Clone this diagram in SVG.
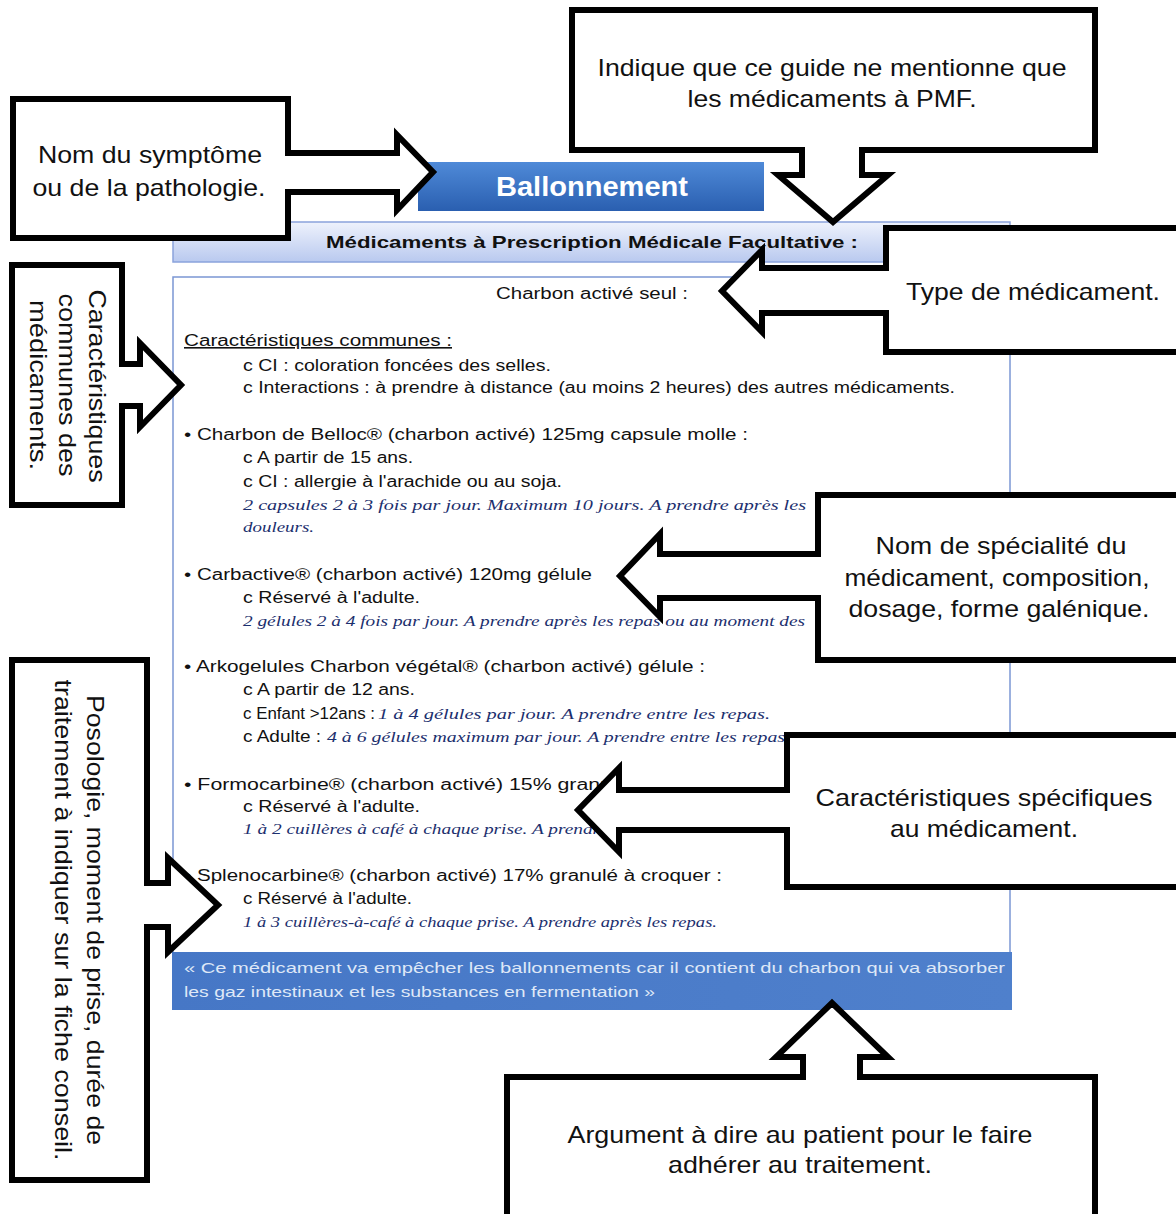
<svg xmlns="http://www.w3.org/2000/svg" width="1176" height="1214" viewBox="0 0 1176 1214">
<defs>
<linearGradient id="gTitle" x1="0" y1="0" x2="0" y2="1">
<stop offset="0" stop-color="#4f8ad8"/>
<stop offset="1" stop-color="#2a5fb0"/>
</linearGradient>
<linearGradient id="gHead" x1="0" y1="0" x2="0" y2="1">
<stop offset="0" stop-color="#eef2fc"/>
<stop offset="1" stop-color="#b9c9ef"/>
</linearGradient>
<linearGradient id="gFoot" x1="0" y1="0" x2="1" y2="0">
<stop offset="0" stop-color="#4677c6"/>
<stop offset="1" stop-color="#4f80cc"/>
</linearGradient>
</defs>
<style>
.co{fill:#fff;stroke:#000;stroke-width:6;stroke-linejoin:miter}
.ct{font-family:"Liberation Sans",Arial,sans-serif;font-size:24px;fill:#111;text-anchor:middle}
.tx{font-family:"Liberation Sans",Arial,sans-serif;font-size:16px;fill:#111}
.it{font-family:"Liberation Serif","Times New Roman",serif;font-size:14px;font-style:italic;fill:#1c2f6e}
.ft{font-family:"Liberation Sans",Arial,sans-serif;font-size:15px;fill:#dfe8f7}
</style>
<rect width="1176" height="1214" fill="#fff"/>

<g id="document">
<rect x="418" y="162" width="346" height="49" fill="url(#gTitle)"/>
<text x="592" y="196" font-family="Liberation Sans,Arial,sans-serif" font-size="28" font-weight="bold" fill="#fff" text-anchor="middle" textLength="192" lengthAdjust="spacingAndGlyphs">Ballonnement</text>
<rect x="173" y="222" width="837" height="40" fill="url(#gHead)" stroke="#8aa3dc" stroke-width="1.5"/>
<text x="326" y="248" font-family="Liberation Sans,Arial,sans-serif" font-size="17" font-weight="bold" fill="#111" textLength="532" lengthAdjust="spacingAndGlyphs">Médicaments à Prescription Médicale Facultative :</text>
<rect x="173" y="277" width="837" height="676" fill="#fff" stroke="#7b97d4" stroke-width="1.5"/>

<text class="tx" x="496" y="299" textLength="192" lengthAdjust="spacingAndGlyphs">Charbon activé seul :</text>
<text class="tx" x="184" y="346" textLength="268" lengthAdjust="spacingAndGlyphs" text-decoration="underline">Caractéristiques communes :</text>
<text class="tx" x="243" y="371" textLength="308" lengthAdjust="spacingAndGlyphs">c CI : coloration foncées des selles.</text>
<text class="tx" x="243" y="393" textLength="712" lengthAdjust="spacingAndGlyphs">c Interactions : à prendre à distance (au moins 2 heures) des autres médicaments.</text>

<text class="tx" x="184" y="440" textLength="564" lengthAdjust="spacingAndGlyphs">• Charbon de Belloc® (charbon activé) 125mg capsule molle :</text>
<text class="tx" x="243" y="463" textLength="170" lengthAdjust="spacingAndGlyphs">c A partir de 15 ans.</text>
<text class="tx" x="243" y="487" textLength="319" lengthAdjust="spacingAndGlyphs">c CI : allergie à l'arachide ou au soja.</text>
<text class="it" x="243" y="510" textLength="563" lengthAdjust="spacingAndGlyphs">2 capsules 2 à 3 fois par jour. Maximum 10 jours. A prendre après les</text>
<text class="it" x="243" y="532" textLength="71" lengthAdjust="spacingAndGlyphs">douleurs.</text>

<text class="tx" x="184" y="580" textLength="408" lengthAdjust="spacingAndGlyphs">• Carbactive® (charbon activé) 120mg gélule</text>
<text class="tx" x="243" y="603" textLength="177" lengthAdjust="spacingAndGlyphs">c Réservé à l'adulte.</text>
<text class="it" x="243" y="626" textLength="562" lengthAdjust="spacingAndGlyphs">2 gélules 2 à 4 fois par jour. A prendre après les repas ou au moment des</text>

<text class="tx" x="184" y="672" textLength="521" lengthAdjust="spacingAndGlyphs">• Arkogelules Charbon végétal® (charbon activé) gélule :</text>
<text class="tx" x="243" y="695" textLength="172" lengthAdjust="spacingAndGlyphs">c A partir de 12 ans.</text>
<text class="tx" x="243" y="719" textLength="132" lengthAdjust="spacingAndGlyphs">c Enfant &gt;12ans :</text>
<text class="it" x="378" y="719" textLength="392" lengthAdjust="spacingAndGlyphs">1 à 4 gélules par jour. A prendre entre les repas.</text>
<text class="tx" x="243" y="742" textLength="78" lengthAdjust="spacingAndGlyphs">c Adulte :</text>
<text class="it" x="327" y="742" textLength="458" lengthAdjust="spacingAndGlyphs">4 à 6 gélules maximum par jour. A prendre entre les repas</text>

<text class="tx" x="184" y="790" textLength="428" lengthAdjust="spacingAndGlyphs">• Formocarbine® (charbon activé) 15% granu</text>
<text class="tx" x="243" y="812" textLength="177" lengthAdjust="spacingAndGlyphs">c Réservé à l'adulte.</text>
<text class="it" x="243" y="834" textLength="365" lengthAdjust="spacingAndGlyphs">1 à 2 cuillères à café à chaque prise. A prendre</text>

<text class="tx" x="184" y="881" textLength="538" lengthAdjust="spacingAndGlyphs">• Splenocarbine® (charbon activé) 17% granulé à croquer :</text>
<text class="tx" x="243" y="904" textLength="169" lengthAdjust="spacingAndGlyphs">c Réservé à l'adulte.</text>
<text class="it" x="243" y="927" textLength="474" lengthAdjust="spacingAndGlyphs">1 à 3 cuillères-à-café à chaque prise. A prendre après les repas.</text>

<rect x="172" y="952" width="840" height="58" fill="url(#gFoot)"/>
<text class="ft" x="184" y="973" textLength="821" lengthAdjust="spacingAndGlyphs">« Ce médicament va empêcher les ballonnements car il contient du charbon qui va absorber</text>
<text class="ft" x="184" y="997" textLength="471" lengthAdjust="spacingAndGlyphs">les gaz intestinaux et les substances en fermentation »</text>
</g>

<g id="connectors"></g>

<g id="callout-symptome">
<polygon class="co" points="13,99 288,99 288,153 397,153 397,135 433,172 397,210 397,192 288,192 288,238 13,238"/>
<text class="ct" x="150" y="163" textLength="224" lengthAdjust="spacingAndGlyphs">Nom du symptôme</text>
<text class="ct" x="149" y="196" textLength="233" lengthAdjust="spacingAndGlyphs">ou de la pathologie.</text>
</g>

<g id="callout-pmf">
<polygon class="co" points="572,10 1095,10 1095,150 862,150 862,175 888,175 833,222 778,175 802,175 802,150 572,150"/>
<text class="ct" x="832" y="76" textLength="469" lengthAdjust="spacingAndGlyphs">Indique que ce guide ne mentionne que</text>
<text class="ct" x="832" y="107" textLength="289" lengthAdjust="spacingAndGlyphs">les médicaments à PMF.</text>
</g>

<g id="callout-type">
<polygon class="co" points="886,228 1185,228 1185,352 886,352 886,313 762,313 762,332 722,291 762,250 762,268 886,268"/>
<text class="ct" x="1033" y="300" textLength="254" lengthAdjust="spacingAndGlyphs">Type de médicament.</text>
</g>

<g id="callout-communes">
<polygon class="co" points="12,265 122,265 122,364 140,364 140,343 181,385 140,427 140,406 122,406 122,505 12,505"/>
<text class="ct" transform="translate(89,386) rotate(90)" x="0" y="0" textLength="193" lengthAdjust="spacingAndGlyphs">Caractéristiques</text>
<text class="ct" transform="translate(59,385) rotate(90)" x="0" y="0" textLength="183" lengthAdjust="spacingAndGlyphs">communes des</text>
<text class="ct" transform="translate(30,385) rotate(90)" x="0" y="0" textLength="170" lengthAdjust="spacingAndGlyphs">médicaments.</text>
</g>

<g id="callout-specialite">
<polygon class="co" points="818,495 1185,495 1185,660 818,660 818,598 660,598 660,617 620,576 660,534 660,554 818,554"/>
<text class="ct" x="1001" y="554" textLength="251" lengthAdjust="spacingAndGlyphs">Nom de spécialité du</text>
<text class="ct" x="997" y="586" textLength="305" lengthAdjust="spacingAndGlyphs">médicament, composition,</text>
<text class="ct" x="999" y="617" textLength="301" lengthAdjust="spacingAndGlyphs">dosage, forme galénique.</text>
</g>

<g id="callout-specifiques">
<polygon class="co" points="787,735 1185,735 1185,887 787,887 787,830 619,830 619,852 578,810 619,768 619,790 787,790"/>
<text class="ct" x="984" y="806" textLength="337" lengthAdjust="spacingAndGlyphs">Caractéristiques spécifiques</text>
<text class="ct" x="984" y="837" textLength="188" lengthAdjust="spacingAndGlyphs">au médicament.</text>
</g>

<g id="callout-posologie">
<polygon class="co" points="12,660 147,660 147,883 168,883 168,858 218,905 168,952 168,927 147,927 147,1180 12,1180"/>
<text class="ct" transform="translate(87,920) rotate(90)" x="0" y="0" textLength="450" lengthAdjust="spacingAndGlyphs">Posologie, moment de prise, durée de</text>
<text class="ct" transform="translate(55,920) rotate(90)" x="0" y="0" textLength="481" lengthAdjust="spacingAndGlyphs">traitement à indiquer sur la fiche conseil.</text>
</g>

<g id="callout-argument">
<polygon class="co" points="507,1077 803,1077 803,1057 776,1057 832,1003 888,1057 860,1057 860,1077 1095,1077 1095,1222 507,1222"/>
<text class="ct" x="800" y="1143" textLength="465" lengthAdjust="spacingAndGlyphs">Argument à dire au patient pour le faire</text>
<text class="ct" x="800" y="1173" textLength="264" lengthAdjust="spacingAndGlyphs">adhérer au traitement.</text>
</g>
</svg>
